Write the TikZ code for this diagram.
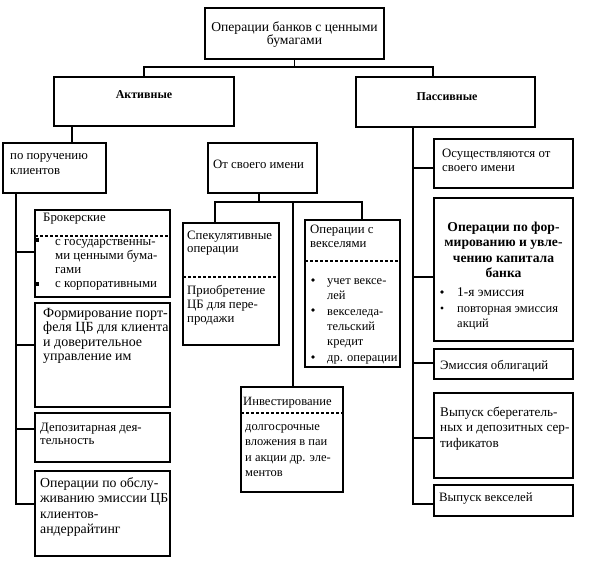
\documentclass[tikz,border=0pt]{standalone}
\usepackage{fontspec}
\setmainfont{Liberation Serif}
\usetikzlibrary{calc}
\newcommand\fr{\rule{0pt}{10pt}}
\begin{document}
\begin{tikzpicture}[x=1pt,y=-1pt,
  box/.style={draw,line width=1.3pt,inner sep=0pt,outer sep=0pt,anchor=north west},
  dsh/.style={line width=1.2pt,dash pattern=on 3pt off 2pt},
  ln/.style={line width=1.3pt},
  txt/.style={anchor=north west,inner sep=0pt,align=left,font=\fontsize{12.8}{#1}\selectfont},
  txt/.default=13,
  ctr/.style={inner sep=0pt,align=center,font=\fontsize{12.8}{13}\selectfont}]
\useasboundingbox[fill=white] (0,0) rectangle (593,565);
% boxes
\node[box,minimum width=179pt,minimum height=51pt] (top) at (205,8) {};
\node[box,minimum width=180pt,minimum height=49pt] (act) at (54,77) {};
\node[box,minimum width=179pt,minimum height=50pt] (pas) at (356,77) {};
\node[box,minimum width=103pt,minimum height=50pt] (poruch) at (3,143) {};
\node[box,minimum width=109pt,minimum height=50pt] (own) at (208,143) {};
\node[box,minimum width=135pt,minimum height=87pt] (broker) at (35,210) {};
\node[box,minimum width=135pt,minimum height=104pt] (portf) at (35,303) {};
\node[box,minimum width=135pt,minimum height=49pt] (depo) at (35,413) {};
\node[box,minimum width=135pt,minimum height=85pt] (underw) at (35,471) {};
\node[box,minimum width=96pt,minimum height=122pt] (spec) at (183,223) {};
\node[box,minimum width=95pt,minimum height=147pt] (veks) at (305,220) {};
\node[box,minimum width=102pt,minimum height=105pt] (invest) at (241,387) {};
\node[box,minimum width=139pt,minimum height=49pt] (osush) at (434,139) {};
\node[box,minimum width=139pt,minimum height=143pt] (formir) at (434,198) {};
\node[box,minimum width=139pt,minimum height=30pt] (obl) at (434,349) {};
\node[box,minimum width=139pt,minimum height=85pt] (sber) at (434,393) {};
\node[box,minimum width=139pt,minimum height=31pt] (vypv) at (434,485) {};
% dashed separators
\draw[dsh] ($(broker.north west)+(0,26)$) -- ($(broker.north east)+(0,26)$);
\draw[dsh] ($(spec.north west)+(0,54)$) -- ($(spec.north east)+(0,54)$);
\draw[dsh] ($(veks.north west)+(0,41)$) -- ($(veks.north east)+(0,41)$);
\draw[dsh] ($(invest.north west)+(0,26)$) -- ($(invest.north east)+(0,26)$);
% connectors top
\coordinate (h1) at (144,67);
\coordinate (h2) at (433,67);
\draw[ln] (top.south) -- (top.south |- h1);
\draw[ln] (act.north) -- (h1) -- (h2) -- (h2 |- pas.north);
\coordinate (ta) at (72,0);
\draw[ln] (act.south -| ta) -- (poruch.north -| ta);
% left trunk
\coordinate (b1) at (16,252);
\coordinate (b2) at (16,345);
\coordinate (b3) at (16,429);
\coordinate (b4) at (16,504);
\draw[ln] (poruch.south -| b1) -- (b4) -- (b4 -| underw.west);
\draw[ln] (b1) -- (b1 -| broker.west);
\draw[ln] (b2) -- (b2 -| portf.west);
\draw[ln] (b3) -- (b3 -| depo.west);
% middle
\coordinate (om) at (259,202);
\coordinate (m1) at (215,202);
\coordinate (m2) at (362,202);
\coordinate (m3) at (293,202);
\draw[ln] (om |- own.south) -- (om);
\draw[ln] (m1 |- spec.north) -- (m1) -- (m2) -- (m2 |- veks.north);
\draw[ln] (m3) -- (m3 |- invest.north);
% right trunk
\coordinate (r1) at (413,168);
\coordinate (r2) at (413,277);
\coordinate (r3) at (413,363);
\coordinate (r4) at (413,438);
\coordinate (r5) at (413,504);
\draw[ln] (pas.south -| r1) -- (r5) -- (r5 -| vypv.west);
\draw[ln] (r1) -- (r1 -| osush.west);
\draw[ln] (r2) -- (r2 -| formir.west);
\draw[ln] (r3) -- (r3 -| obl.west);
\draw[ln] (r4) -- (r4 -| sber.west);
% texts
\node[ctr,anchor=north,font=\fontsize{13.6}{13.5}\selectfont] (t1) at (294.5,21) {\fr Операции банков с ценными\\бумагами};
\node[ctr,font=\bfseries\fontsize{12}{13}\selectfont] (t2) at (144,95) {Активные};
\node[ctr,font=\bfseries\fontsize{12}{13}\selectfont] (t3) at (447,97) {Пассивные};
\node[txt=15] (t4) at (10,149) {\fr по поручению\\клиентов};
\node[txt] (t5) at (213,158) {\fr От своего имени};
\node[txt] (t6) at (43,211) {\fr Брокерские};
\node[txt=14,font=\fontsize{12.9}{14}\selectfont] (t7) at (55,235) {\fr с государственны-\\ми ценными бума-\\гами\\с корпоративными};
\fill (37,240) +(-2,-2) rectangle +(2,2);
\fill (37,284) +(-2,-2) rectangle +(2,2);
\node[txt,font=\fontsize{14}{14.5}\selectfont] (t8) at (43,307) {\fr Формирование порт-\\феля ЦБ для клиента\\и доверительное\\управление им};
\node[txt] (t9) at (40,421) {\fr Депозитарная дея-\\тельность};
\node[txt,font=\fontsize{13.8}{15.5}\selectfont] (t10) at (40,477) {\fr Операции по обслу-\\живанию эмиссии ЦБ\\клиентов-\\андеррайтинг};
\node[txt=13.5] (t11) at (187,229) {\fr Спекулятивные\\операции};
\node[txt=14] (t12) at (187,284) {\fr Приобретение\\ЦБ для пере-\\продажи};
\node[txt=14] (t13) at (310,223) {\fr Операции с\\векселями};
\node[txt,font=\fontsize{12.5}{15.4}\selectfont] (t14) at (327,274) {\fr учет вексе-\\лей\\векселеда-\\тельский\\кредит\\др. операции};
\fill (313,280) circle (1.8);
\fill (313,310) circle (1.8);
\fill (313,357) circle (1.8);
\node[txt,font=\fontsize{12.6}{13}\selectfont] (t15) at (243,395) {\fr Инвестирование};
\node[txt,font=\fontsize{12.5}{15.5}\selectfont] (t16) at (245,420) {\fr долгосрочные\\вложения в паи\\и акции др. эле-\\ментов};
\node[txt=14] (t17) at (442,147) {\fr Осуществляются от\\своего имени};
\node[ctr,anchor=north,font=\bfseries\fontsize{13.6}{15.5}\selectfont] (t18) at (503.5,221) {\fr Операции по фор-\\мированию и увле-\\чению капитала\\банка};
\node[txt,font=\fontsize{13.4}{13}\selectfont] (t19) at (457,286) {\fr 1-я эмиссия};
\fill (442,292) circle (1.8);
\node[txt,font=\fontsize{12.5}{15}\selectfont] (t20) at (457,302) {\fr повторная эмиссия\\акций};
\fill (442,308) circle (1.6);
\node[txt] (t21) at (440,359) {\fr Эмиссия облигаций};
\node[txt,font=\fontsize{13.2}{15.5}\selectfont] (t22) at (440,406) {\fr Выпуск сберегатель-\\ных и депозитных сер-\\тификатов};
\node[txt] (t23) at (439,491) {\fr Выпуск векселей};
\end{tikzpicture}
\end{document}
